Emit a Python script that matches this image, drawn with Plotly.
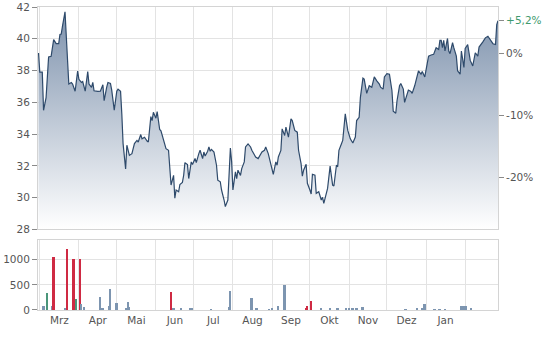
import pandas as pd
import plotly.graph_objects as go

# ---------------- data ----------------
start_date = "2023-02-27"
price_days = [1, 2, 4, 5, 7, 9, 11, 13, 15, 17, 18, 19, 20, 22, 25, 27, 28, 30, 32, 33,
              35, 36, 38, 40, 41, 43, 44, 45, 48, 50, 52, 53, 55, 56, 58, 59, 61, 63, 64, 66,
              67, 68, 70, 71, 73, 75, 77, 79, 80, 82, 83, 85, 87, 88, 90, 91, 92, 94, 95, 97,
              98, 100, 102, 104, 105, 106, 108, 109, 110, 112, 113, 115, 116, 117, 119, 120, 122, 123, 125, 126,
              128, 129, 131, 132, 133, 135, 136, 137, 138, 140, 142, 143, 145, 146, 148, 149, 151, 152, 153, 154,
              155, 157, 158, 159, 161, 162, 164, 165, 167, 169, 170, 172, 173, 175, 176, 178, 180, 181, 183, 185,
              187, 189, 190, 191, 193, 194, 196, 197, 199, 201, 202, 204, 206, 207, 209, 210, 211, 213, 214, 216,
              217, 218, 220, 221, 223, 225, 226, 227, 229, 230, 232, 234, 235, 237, 238, 239, 241, 242, 244, 246,
              248, 250, 252, 253, 255, 256, 258, 259, 261, 263, 265, 267, 269, 271, 272, 274, 275, 277, 279, 281,
              282, 284, 285, 287, 288, 290, 291, 293, 294, 296, 297, 299, 301, 302, 304, 305, 307, 309, 310, 312,
              314, 315, 316, 318, 319, 320, 321, 322, 323, 325, 326, 327, 329, 330, 332, 333, 335, 336, 337, 338,
              339, 341, 343, 345, 346, 347, 349, 350, 353, 355, 357, 358, 360, 361, 363, 364, 365]
price_values = [39.1, 37.9, 37.9, 35.5, 36.3, 38.85, 38.9, 39.95, 39.7, 39.7, 40.27, 40.3, 40.8, 41.7, 37.15, 37.25, 37.15, 36.7, 37.97, 37.45,
                37.25, 37.31, 36.7, 37.94, 37.15, 36.94, 37.25, 36.73, 36.69, 36.7, 37.1, 36.1, 36.94, 37.25, 37.19, 36.77, 35.5, 36.7, 36.83, 36.69,
                35.27, 33.4, 31.8, 33.3, 32.66, 32.77, 33.4, 33.6, 33.5, 33.97, 33.7, 33.8, 33.56, 33.5, 35.1, 34.85, 35.37, 35.0, 35.41, 34.29,
                34.2, 33.7, 33.08, 32.98, 31.83, 30.79, 31.4, 29.96, 30.48, 30.37, 30.83, 30.96, 31.41, 32.2, 32.08, 31.2, 32.25, 32.08, 32.46, 32.2,
                32.77, 32.98, 32.46, 32.87, 32.62, 32.92, 33.19, 32.92, 33.04, 32.87, 32.04, 31.1, 31.0, 30.48, 29.85, 29.44, 29.85, 32.04, 33.12, 32.25,
                30.48, 31.62, 31.2, 31.73, 31.4, 31.83, 32.25, 33.19, 33.38, 33.19, 32.98, 32.7, 32.56, 32.46, 32.62, 32.87, 32.98, 33.19, 32.77, 32.14,
                31.47, 32.25, 32.04, 32.56, 32.97, 34.33, 33.91, 34.44, 33.81, 34.96, 34.85, 34.23, 34.12, 32.98, 32.14, 31.35, 31.73, 32.1, 30.9, 30.48,
                30.23, 31.47, 31.41, 30.27, 30.37, 29.85, 30.02, 29.64, 30.16, 30.58, 31.98, 30.79, 30.73, 32.04, 31.94, 32.98, 33.39, 33.6, 35.27, 34.23,
                33.7, 33.44, 33.81, 34.85, 35.06, 36.31, 37.52, 37.46, 36.56, 37.04, 36.94, 37.6, 37.35, 37.15, 36.95, 36.83, 37.6, 37.81, 37.77, 36.73,
                35.44, 35.31, 36.1, 37.04, 37.19, 36.83, 36.0, 36.63, 36.77, 36.69, 36.56, 37.04, 37.66, 37.98, 37.77, 37.94, 37.6, 38.44, 38.91, 38.98,
                39.02, 39.23, 39.44, 39.33, 39.9, 39.9, 39.44, 39.9, 39.23, 40.02, 39.23, 39.06, 39.75, 39.44, 38.91, 37.98, 37.77, 39.23, 38.71, 38.19,
                39.39, 39.64, 38.64, 38.29, 38.71, 39.12, 38.91, 39.48, 39.81, 40.06, 40.16, 40.06, 39.81, 39.69, 39.64, 40.89, 41.14]

vol_days = [5, 8, 12, 13, 22, 24, 29, 31, 34, 35, 37, 50, 52, 57, 58, 63, 71, 72, 73, 106,
            108, 114, 121, 123, 138, 152, 153, 170, 174, 184, 186, 191, 196, 213, 214, 217, 225, 232, 238, 245,
            247, 250, 253, 258, 292, 301, 305, 307, 315, 319, 323, 336, 338, 340, 344]
vol_values = [70, 340, 80, 1053, 40, 1207, 1020, 227, 1020, 110, 60, 267, 30, 70, 420, 133, 30, 150, 60, 367,
              40, 30, 20, 20, 15, 60, 387, 233, 20, 15, 20, 70, 500, 40, 80, 173, 40, 20, 30, 20,
              20, 20, 20, 60, 15, 20, 40, 120, 15, 15, 15, 70, 80, 80, 20]
vol_kind = ["n", "up", "n", "down", "n", "down", "down", "up", "down", "n", "n", "n", "n", "n", "n", "n", "n", "n", "n", "down",
            "n", "n", "n", "n", "n", "n", "n", "n", "n", "n", "n", "n", "n", "down", "down", "down", "n", "n", "n", "n",
            "n", "n", "n", "n", "n", "n", "n", "n", "n", "n", "n", "n", "n", "n", "n"]

month_labels = ["Mrz", "Apr", "Mai", "Jun", "Jul", "Aug", "Sep", "Okt", "Nov", "Dez", "Jan"]
left_ticks = [28, 30, 32, 34, 36, 38, 40, 42]
pct_ticks = [-20, -10, 0]
vol_ticks = [0, 500, 1000]

assert len(price_days) == len(price_values)
assert len(vol_days) == len(vol_values) == len(vol_kind)

# ---------------- derived ----------------
t0 = pd.Timestamp(start_date)
dates = [t0 + pd.Timedelta(days=d) for d in price_days]
vdates = [t0 + pd.Timedelta(days=d) for d in vol_days]
kind_color = {"down": "#cf2a43", "up": "#4a967a", "n": "#7d95b0"}
vcolors = [kind_color[k] for k in vol_kind]

base = price_values[0]
last_pct = (price_values[-1] / base - 1) * 100
pct_values = [(v / base - 1) * 100 for v in price_values]
y_rng = [28, 42]
pct_rng = [(v / base - 1) * 100 for v in y_rng]

month_starts = pd.date_range("2023-03-01", periods=len(month_labels) + 1, freq="MS")
mid_months = [month_starts[i] + (month_starts[i + 1] - month_starts[i]) / 2 for i in range(len(month_labels))]

x_rng = [t0 + pd.Timedelta(days=0.6), t0 + pd.Timedelta(days=price_days[-1])]

grid = "#e3e3e3"
frame = "#d4d4d4"
font = dict(family="DejaVu Sans", size=10.5, color="#555555")

fig = go.Figure()
fig.add_trace(go.Scatter(
    x=dates, y=price_values, mode="lines",
    line=dict(color="#2e4a6b", width=1.2),
    fill="tozeroy",
    fillgradient=dict(type="vertical", colorscale=[[0, "#ffffff"], [1, "#7b90ab"]],
                      start=28, stop=42),
    xaxis="x", yaxis="y", hoverinfo="skip", showlegend=False,
))
# same series in percent terms on the right-hand axis (invisible, keeps the axis drawn)
fig.add_trace(go.Scatter(
    x=dates, y=pct_values, mode="lines", line=dict(width=0, color="rgba(0,0,0,0)"),
    xaxis="x", yaxis="y3", hoverinfo="skip", showlegend=False,
))
fig.add_trace(go.Bar(
    x=vdates, y=vol_values, marker=dict(color=vcolors, line=dict(width=0)),
    width=1.5 * 86400000, xaxis="x2", yaxis="y2", showlegend=False, hoverinfo="skip",
))

minor = dict(dtick="M1", tick0="2023-03-01", showgrid=True, gridcolor=grid, gridwidth=1, ticks="")

fig.update_layout(
    width=550, height=337,
    margin=dict(l=38, r=52, t=7, b=27, autoexpand=False),
    paper_bgcolor="white", plot_bgcolor="white",
    font=font, bargap=0,
    xaxis=dict(domain=[0, 1], anchor="y", type="date", range=x_rng, matches="x2",
               showticklabels=False, showgrid=False, ticks="", automargin=False,
               tickvals=mid_months, minor=minor,
               showline=True, mirror=True, linecolor=frame, linewidth=1, zeroline=False),
    yaxis=dict(domain=[0.266, 1], anchor="x", range=y_rng, tickvals=left_ticks, automargin=False,
               showgrid=True, gridcolor=grid, ticks="outside", ticklen=5, tickcolor="#8a8a8a",
               showline=True, mirror=True, linecolor=frame, linewidth=1, zeroline=False),
    yaxis3=dict(overlaying="y", side="right", anchor="x", range=pct_rng, automargin=False,
                tickvals=[last_pct] + pct_ticks,
                ticktext=['<span style="color:#3f9a6e">+' + f"{last_pct:.1f}".replace(".", ",") + "%</span>"]
                         + [f"{v}%" for v in pct_ticks],
                showgrid=False, ticks="outside", ticklen=5, tickcolor="#8a8a8a", zeroline=False),
    xaxis2=dict(domain=[0, 1], anchor="y2", type="date", range=x_rng, automargin=False,
                tickvals=mid_months, ticktext=month_labels, showgrid=False, ticks="",
                minor=minor,
                showline=True, mirror=True, linecolor=frame, linewidth=1, zeroline=False),
    yaxis2=dict(domain=[0, 0.231], anchor="x2", range=[0, 1390], tickvals=vol_ticks, automargin=False,
                showgrid=True, gridcolor=grid, ticks="outside", ticklen=5, tickcolor="#8a8a8a",
                showline=True, mirror=True, linecolor=frame, linewidth=1, zeroline=False),
)

fig.write_html("out.html")
